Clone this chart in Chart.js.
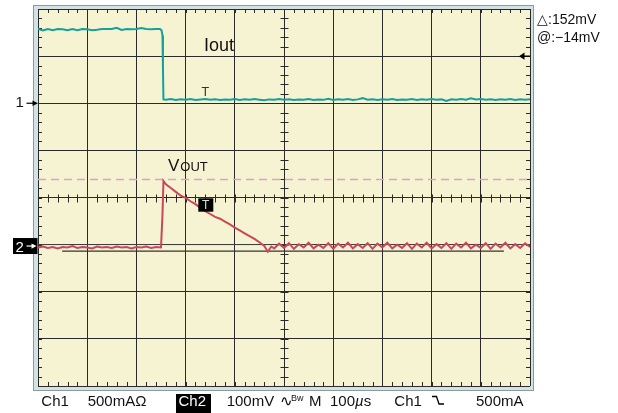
<!DOCTYPE html>
<html>
<head>
<meta charset="utf-8">
<script src="https://cdn.jsdelivr.net/npm/chart.js@4.4.1/dist/chart.umd.min.js"></script>
<style>
  html, body { margin: 0; padding: 0; background: #fff; }
  #wrap { position: relative; width: 618px; height: 413px; overflow: hidden; }
  #scope { position: absolute; left: 0; top: 0; }
  .lbl { position: absolute; white-space: pre; line-height: 1; color: #111;
         font-family: "Liberation Sans", Arial, Helvetica, sans-serif; }
</style>
</head>
<body>
<div id="wrap">
  <canvas id="scope" width="618" height="413"></canvas>

  <span class="lbl" style="left:204px;top:35.8px;font-size:18px">Iout</span>
  <span class="lbl" style="left:168px;top:156.6px;font-size:17px">V</span>
  <span class="lbl" style="left:180.3px;top:160px;font-size:13px">OUT</span>
  <span class="lbl" style="left:201.5px;top:86px;font-size:12.5px;color:#333">T</span>
  <span class="lbl" style="left:202px;top:199.1px;font-size:12px;color:#ddd">T</span>
  <span class="lbl" style="left:15.5px;top:94.3px;font-size:15px">1</span>
  <span class="lbl" style="left:15.5px;top:239px;font-size:15px;color:#fff">2</span>

  <span class="lbl" style="left:537px;top:11.5px;font-size:14px">△:152mV</span>
  <span class="lbl" style="left:537px;top:29.6px;font-size:14px">@:−14mV</span>

  <span class="lbl" style="left:41.3px;top:393.3px;font-size:15px">Ch1</span>
  <span class="lbl" style="left:87.7px;top:393.3px;font-size:15px">500mAΩ</span>
  <span class="lbl" style="left:175.7px;top:394.3px;width:35.3px;height:19px;background:#000;"></span>
  <span class="lbl" style="left:178.5px;top:393.3px;font-size:15px;color:#fff">Ch2</span>
  <span class="lbl" style="left:226.7px;top:393.3px;font-size:15px">100mV</span>
  <span class="lbl" style="left:279.5px;top:392.5px;font-size:15px">∿</span>
  <span class="lbl" style="left:291px;top:394.4px;font-size:9px">Bw</span>
  <span class="lbl" style="left:309px;top:393.3px;font-size:15px">M</span>
  <span class="lbl" style="left:330px;top:393.3px;font-size:15px">100<i>µ</i>s</span>
  <span class="lbl" style="left:394.3px;top:393.3px;font-size:15px">Ch1</span>
  <span class="lbl" style="left:476px;top:393.3px;font-size:15px">500mA</span>
</div>

<script>
// 时间轴 100us/div，共 10 格
const ioutTimeUs = [
    0, 10, 20, 30, 40, 50, 60, 70, 80, 90, 100, 110, 120, 130, 140, 150, 160, 170, 180, 190,
    200, 210, 220, 230, 240, 248, 251, 253, 254, 255,
    260, 270, 280, 290, 300, 310, 320, 330, 340, 350, 360, 370, 380, 390, 400, 410, 420, 430, 440, 450,
    460, 470, 480, 490, 500, 510, 520, 530, 540, 550, 560, 570, 580, 590, 600, 610, 620, 630, 640, 650,
    660, 670, 680, 690, 700, 710, 720, 730, 740, 750, 760, 770, 780, 790, 800, 810, 820, 830, 840, 850,
    860, 870, 880, 890, 900, 910, 920, 930, 940, 950, 960, 970, 980, 990, 1000
];
// Ch1 电流 (A), 500mA/div
const ioutAmps = [
    0.787, 0.773, 0.787, 0.775, 0.787, 0.785, 0.774, 0.787, 0.776, 0.787, 0.786, 0.774, 0.779, 0.787, 0.787, 0.788, 0.800, 0.778, 0.787, 0.786,
    0.787, 0.799, 0.787, 0.786, 0.787, 0.787, 0.775, 0.720, 0.360, 0.040,
    0.036, 0.044, 0.034, 0.042, 0.036, 0.045, 0.035, 0.040, 0.046, 0.036, 0.043, 0.034, 0.041, 0.037, 0.046, 0.035, 0.042, 0.036, 0.044, 0.038,
    0.033, 0.041, 0.037, 0.045, 0.036, 0.042, 0.034, 0.040, 0.037, 0.044, 0.035, 0.041, 0.036, 0.048, 0.035, 0.042, 0.036, 0.044, 0.034, 0.041,
    0.054, 0.037, 0.043, 0.035, 0.042, 0.036, 0.045, 0.035, 0.041, 0.037, 0.044, 0.034, 0.042, 0.037, 0.045, 0.036, 0.041, 0.024, 0.043, 0.036,
    0.044, 0.038, 0.052, 0.040, 0.045, 0.036, 0.043, 0.035, 0.042, 0.037, 0.044, 0.035, 0.043, 0.036, 0.042
];

const voutTimeUs = [
    0, 10, 20, 30, 40, 50, 60, 70, 80, 90, 100, 110, 120, 130, 140, 150, 160, 170, 180, 190,
    200, 210, 220, 230, 240, 250, 253, 255,
    260, 270, 280, 290, 300, 310, 320, 330, 340, 350, 360, 370, 380, 390, 400, 410, 420, 430, 440, 450, 460,
    467, 474,
    480, 490, 500, 510, 520, 530, 540, 550, 560, 570, 580, 590, 600, 610, 620, 630, 640, 650, 660, 670,
    680, 690, 700, 710, 720, 730, 740, 750, 760, 770, 780, 790, 800, 810, 820, 830, 840, 850, 860, 870,
    880, 890, 900, 910, 920, 930, 940, 950, 960, 970, 980, 990, 1000
];
// Ch2 电压 (mV), 100mV/div
const voutMv = [
    -6, -4, -7, -5, -8, -5, -6, -3, -7, -5, -6, -8, -4, -6, -5, -7, -4, -6, -5, -8,
    -5, -6, -4, -7, -5, -6, 64, 135,
    128, 120, 112, 104, 99, 92, 86, 78, 71, 65, 59, 55, 49, 43, 36, 30, 24, 18, 12, 5, -3,
    -15, -4,
    -8, 2, -7, 3, -9, 1, -6, 4, -8, 0, -7, 3, -9, 2, -6, 4, -8, 1, -7, 3,
    -9, 2, -6, 4, -8, 0, -7, 3, -9, 2, -6, 4, -8, 1, -7, 3, -9, 2, -6, 4,
    -8, 0, -7, 3, -9, 2, -6, 4, -8, 1, -7, 3, -5
];

// 光标 (mV)
const cursorAmV = 138;
const cursorBmV = -14;
const cursorBSpanUs = [49, 947];
const triggerLevelA = 0.5;

const zip = (xs, ys) => xs.map((x, i) => ({ x: x, y: ys[i] }));

// 示波器外框和底色
const scopeFrame = {
    id: 'scopeFrame',
    beforeDraw(chart) {
        const { ctx, chartArea: a } = chart;
        ctx.save();
        ctx.fillStyle = '#d3e3e5';
        ctx.fillRect(a.left - 5, a.top - 4, a.right - a.left + 9, a.bottom - a.top + 9);
        ctx.strokeStyle = '#8d9a9c';
        ctx.lineWidth = 1;
        ctx.strokeRect(a.left - 4.5, a.top - 3.5, a.right - a.left + 8, a.bottom - a.top + 8);
        ctx.fillStyle = '#f6f3d3';
        ctx.fillRect(a.left, a.top, a.right - a.left, a.bottom - a.top);
        ctx.restore();
    }
};

// 中心线和边框上的小刻度
const minorTicks = {
    id: 'minorTicks',
    beforeDatasetsDraw(chart) {
        const { ctx, chartArea: a } = chart;
        const x = chart.scales.x, ch1 = chart.scales.ch1;
        const cx = Math.round(x.getPixelForValue(500)) + 0.5;
        const cy = Math.round(ch1.getPixelForValue(-1)) + 0.5;
        ctx.save();
        ctx.strokeStyle = '#2a2a2a';
        ctx.lineWidth = 1;
        ctx.beginPath();
        for (let i = 1; i < 50; i++) {
            const px = Math.round(x.getPixelForValue(i * 20)) + 0.5;
            ctx.moveTo(px, a.top); ctx.lineTo(px, a.top + 4);
            ctx.moveTo(px, a.bottom); ctx.lineTo(px, a.bottom - 4);
            ctx.moveTo(px, cy - 4); ctx.lineTo(px, cy + 4);
        }
        for (let i = 1; i < 40; i++) {
            const py = Math.round(ch1.getPixelForValue(-3 + i * 0.1)) + 0.5;
            ctx.moveTo(a.left, py); ctx.lineTo(a.left + 4, py);
            ctx.moveTo(a.right, py); ctx.lineTo(a.right - 4, py);
            ctx.moveTo(cx - 4, py); ctx.lineTo(cx + 4, py);
        }
        ctx.stroke();
        ctx.restore();
    }
};

// 通道标记、触发标记
const markers = {
    id: 'markers',
    afterDatasetsDraw(chart) {
        const { ctx, chartArea: a } = chart;
        const ch1 = chart.scales.ch1, ch2 = chart.scales.ch2;
        ctx.save();
        ctx.fillStyle = '#000';
        ctx.strokeStyle = '#000';
        ctx.lineWidth = 1.2;

        // 1 ->
        const y1 = ch1.getPixelForValue(0);
        ctx.beginPath(); ctx.moveTo(26.5, y1); ctx.lineTo(33, y1); ctx.stroke();
        ctx.beginPath(); ctx.moveTo(32.5, y1 - 2.8); ctx.lineTo(a.left, y1); ctx.lineTo(32.5, y1 + 2.8); ctx.fill();

        // 2 -> (黑底)
        const y2 = ch2.getPixelForValue(0) + 1.4;
        ctx.fillRect(13, y2 - 8, 24.5, 16);
        ctx.fillStyle = '#fff'; ctx.strokeStyle = '#fff';
        ctx.beginPath(); ctx.moveTo(26.5, y2); ctx.lineTo(32, y2); ctx.stroke();
        ctx.beginPath(); ctx.moveTo(31.5, y2 - 2.6); ctx.lineTo(36.5, y2); ctx.lineTo(31.5, y2 + 2.6); ctx.fill();

        // 触发电平 <-
        ctx.fillStyle = '#000'; ctx.strokeStyle = '#000';
        const yt = ch1.getPixelForValue(triggerLevelA);
        ctx.beginPath(); ctx.moveTo(519, yt); ctx.lineTo(524.5, yt - 3.6); ctx.lineTo(524.5, yt + 3.6); ctx.fill();
        ctx.beginPath(); ctx.moveTo(524, yt); ctx.lineTo(a.right, yt); ctx.stroke();

        // T 黑框
        ctx.fillRect(198.3, 198.3, 15, 13.4);

        // 下降沿符号
        ctx.lineWidth = 1.3;
        ctx.beginPath();
        ctx.moveTo(432, 396.5); ctx.lineTo(436.5, 396.5); ctx.lineTo(439, 404); ctx.lineTo(444, 404);
        ctx.stroke();
        ctx.restore();
    }
};

const gridStyle = { color: '#2a2a2a', lineWidth: 1, drawTicks: false };

new Chart(document.getElementById('scope').getContext('2d'), {
    type: 'line',
    data: {
        datasets: [
            {
                label: 'Iout',
                data: zip(ioutTimeUs, ioutAmps),
                yAxisID: 'ch1',
                borderColor: '#16a09b',
                borderWidth: 2
            },
            {
                label: 'Vout',
                data: zip(voutTimeUs, voutMv),
                yAxisID: 'ch2',
                borderColor: '#c8475a',
                borderWidth: 2
            },
            {
                label: 'cursorA',
                data: [{ x: 0, y: cursorAmV }, { x: 1000, y: cursorAmV }],
                yAxisID: 'ch2',
                borderColor: '#d6a5c6',
                borderWidth: 1.5,
                borderDash: [8, 5]
            },
            {
                label: 'cursorB',
                data: [{ x: cursorBSpanUs[0], y: cursorBmV }, { x: cursorBSpanUs[1], y: cursorBmV }],
                yAxisID: 'ch2',
                borderColor: '#333',
                borderWidth: 1.2
            },
            {
                label: 'ground2',
                data: [{ x: 0, y: 0 }, { x: 1000, y: 0 }],
                yAxisID: 'ch2',
                borderColor: 'rgba(90, 90, 90, 0.55)',
                borderWidth: 1
            }
        ]
    },
    options: {
        responsive: false,
        animation: false,
        events: [],
        layout: { padding: { left: 38, top: 9, right: 88, bottom: 27 } },
        elements: { point: { radius: 0 }, line: { tension: 0 } },
        plugins: { legend: { display: false }, tooltip: { enabled: false } },
        scales: {
            x: {
                type: 'linear', min: 0, max: 1000,
                ticks: { stepSize: 100, display: false },
                grid: gridStyle,
                border: { display: false }
            },
            ch1: {
                type: 'linear', position: 'left', min: -3, max: 1,
                ticks: { stepSize: 0.5, display: false },
                grid: gridStyle,
                border: { display: false }
            },
            ch2: {
                type: 'linear', position: 'left', min: -300, max: 500,
                display: false
            }
        }
    },
    plugins: [scopeFrame, minorTicks, markers]
});
</script>
</body>
</html>
